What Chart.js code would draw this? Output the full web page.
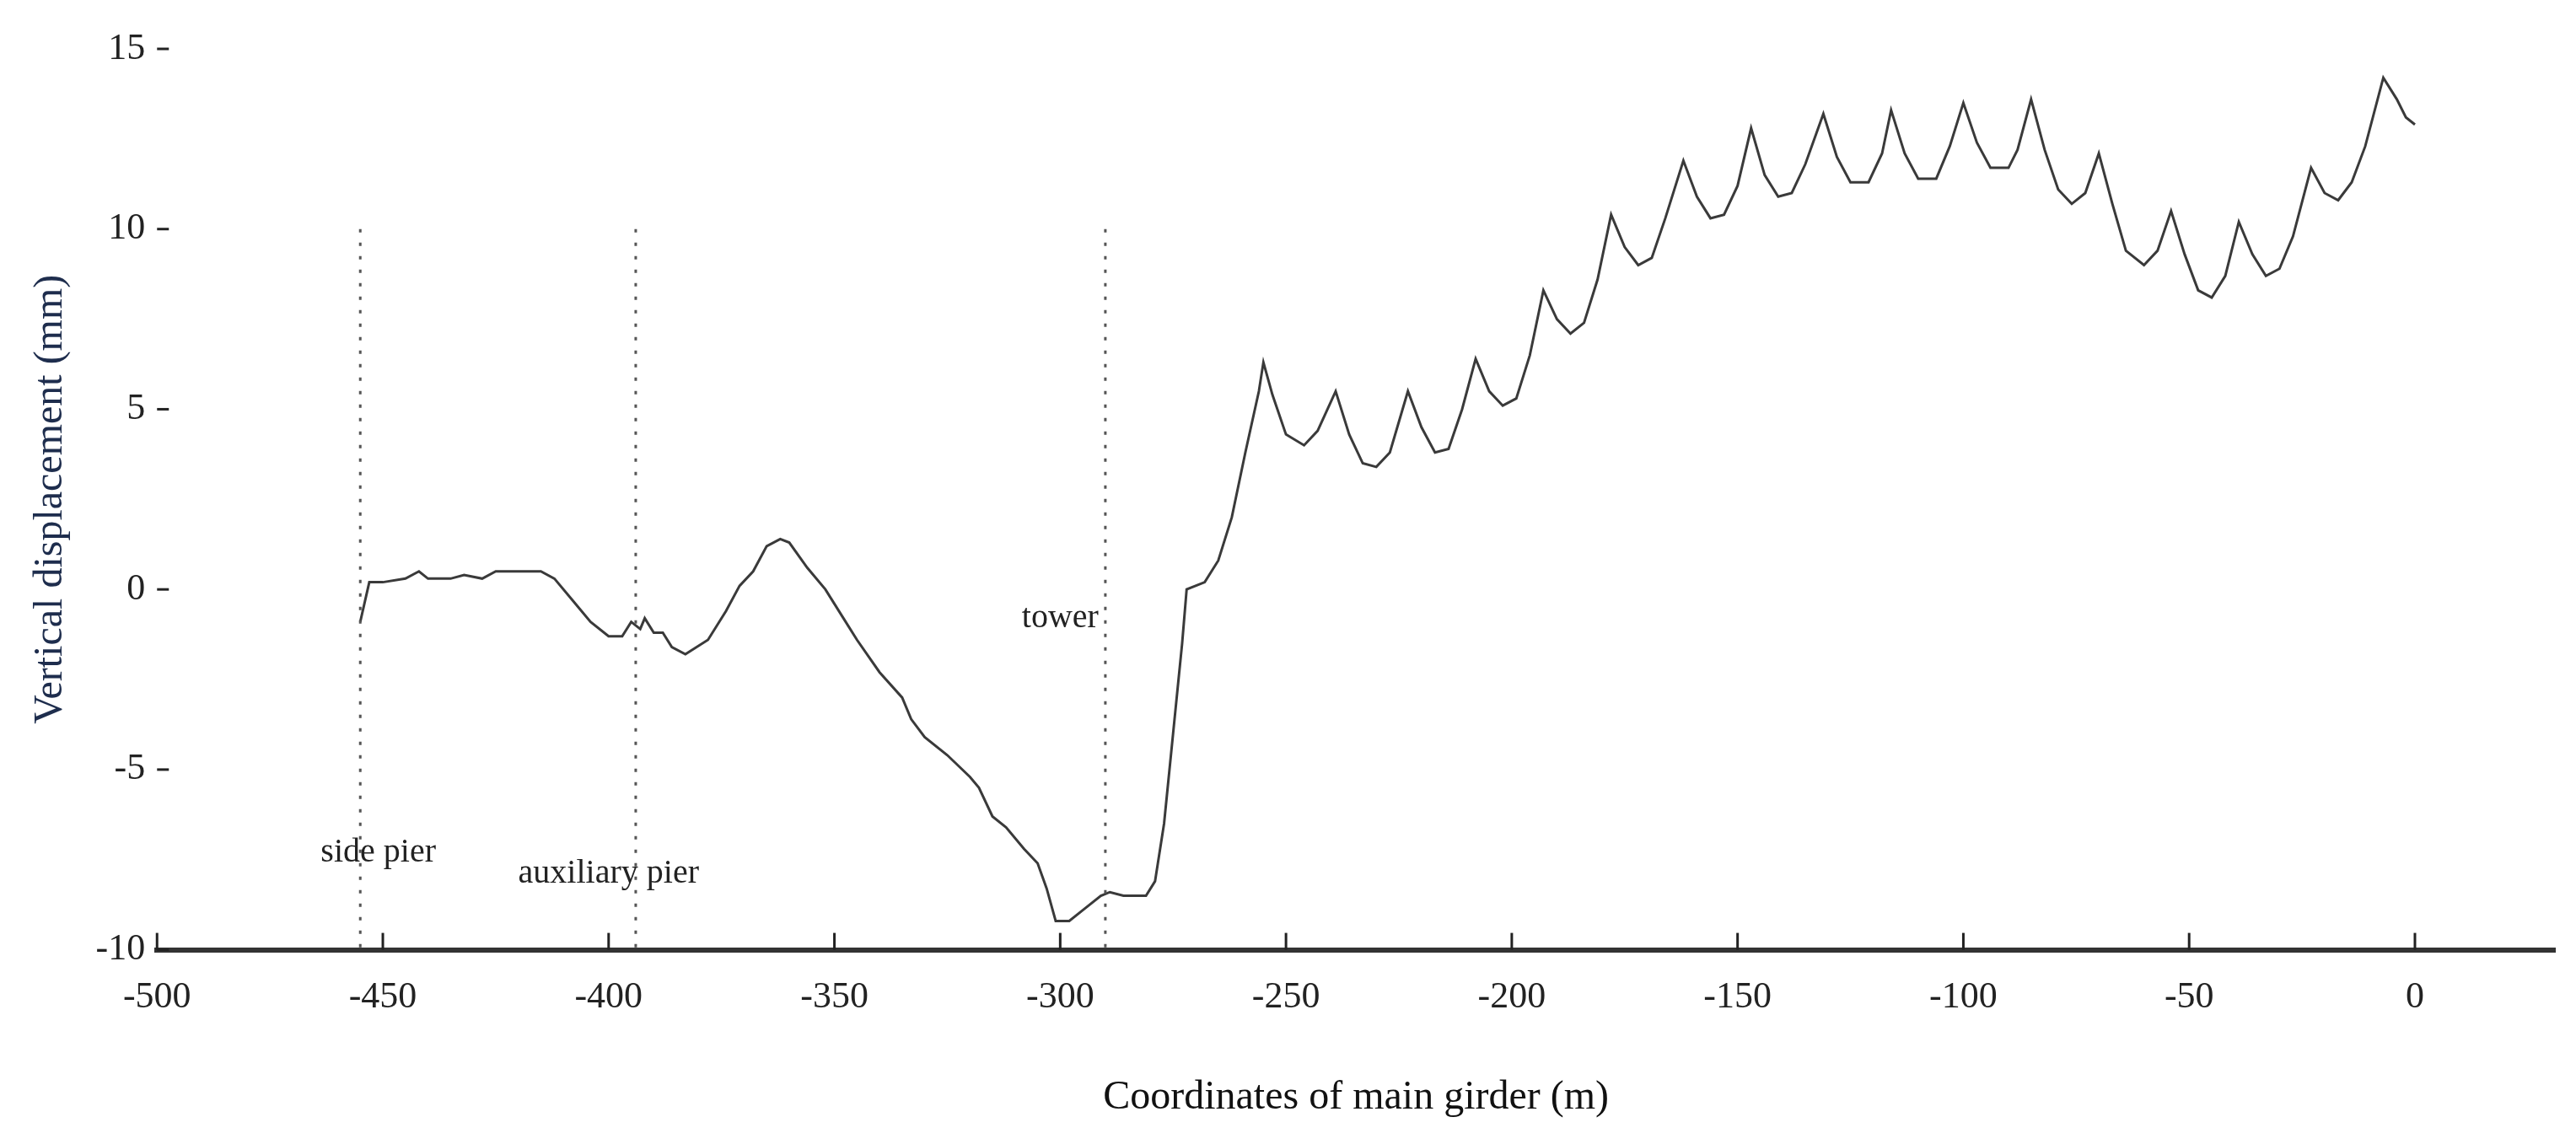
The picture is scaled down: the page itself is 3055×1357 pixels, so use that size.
<!DOCTYPE html>
<html>
<head>
<meta charset="utf-8">
<script src="https://cdn.jsdelivr.net/npm/chart.js@4/dist/chart.umd.min.js"></script>
<style>
	html, body { margin: 0; padding: 0; background: #fff; }
	#wrap { width: 3055px; height: 1357px; }
</style>
</head>
<body>
<div id="wrap"><canvas id="chart"></canvas></div>
<script>
// Coordinates along the girder (m)
const xCoords = [
	-455, -453, -450, -445, -442, -440, -435, -432, -428, -425, -420, -415, -412, -408, -404,
	-400, -397, -395, -393, -392, -390, -388, -386, -383, -378, -374, -371, -368, -365, -362,
	-360, -356, -352, -348, -345, -340, -335, -333, -330, -325, -320, -318, -315, -312, -308,
	-305, -303, -301, -298, -295, -291, -289, -286, -283, -281, -279, -277, -275, -273, -272,
	-268, -265, -262, -259, -256, -255, -253, -250, -246, -243, -239, -236, -233, -230, -227,
	-223, -220, -217, -214, -211, -208, -205, -202, -199, -196, -193, -190, -187, -184, -181,
	-178, -175, -172, -169, -166, -162, -159, -156, -153, -150, -147, -144, -141, -138, -135,
	-131, -128, -125, -121, -118, -116, -113, -110, -106, -103, -100, -97, -94, -90, -88,
	-85, -82, -79, -76, -73, -70, -67, -64, -60, -57, -54, -51, -48, -45, -42,
	-39, -36, -33, -30, -27, -23, -20, -17, -14, -11, -7, -4, -2, 0
];
// Vertical displacement (mm)
const displacement = [
	-0.9, 0.2, 0.2, 0.3, 0.5, 0.3, 0.3, 0.4, 0.3, 0.5, 0.5, 0.5, 0.3, -0.3, -0.9,
	-1.3, -1.3, -0.9, -1.1, -0.8, -1.2, -1.2, -1.6, -1.8, -1.4, -0.6, 0.1, 0.5, 1.2, 1.4,
	1.3, 0.6, 0.0, -0.8, -1.4, -2.3, -3.0, -3.6, -4.1, -4.6, -5.2, -5.5, -6.3, -6.6, -7.2,
	-7.6, -8.3, -9.2, -9.2, -8.9, -8.5, -8.4, -8.5, -8.5, -8.5, -8.1, -6.5, -4.0, -1.5, 0.0,
	0.2, 0.8, 2.0, 3.8, 5.5, 6.3, 5.4, 4.3, 4.0, 4.4, 5.5, 4.3, 3.5, 3.4, 3.8,
	5.5, 4.5, 3.8, 3.9, 5.0, 6.4, 5.5, 5.1, 5.3, 6.5, 8.3, 7.5, 7.1, 7.4, 8.6,
	10.4, 9.5, 9.0, 9.2, 10.3, 11.9, 10.9, 10.3, 10.4, 11.2, 12.8, 11.5, 10.9, 11.0, 11.8,
	13.2, 12.0, 11.3, 11.3, 12.1, 13.3, 12.1, 11.4, 11.4, 12.3, 13.5, 12.4, 11.7, 11.7, 12.2,
	13.6, 12.2, 11.1, 10.7, 11.0, 12.1, 10.7, 9.4, 9.0, 9.4, 10.5, 9.3, 8.3, 8.1, 8.7,
	10.2, 9.3, 8.7, 8.9, 9.8, 11.7, 11.0, 10.8, 11.3, 12.3, 14.2, 13.6, 13.1, 12.9
];
const xTicks = [-500, -450, -400, -350, -300, -250, -200, -150, -100, -50, 0];
const yTicks = [-10, -5, 0, 5, 10, 15];

// Reference lines and their labels
const markerX = [-455, -394, -290];
const markerTop = 10;
const labelNames = ['side pier', 'auxiliary pier', 'tower'];
const labelX = [-451, -400, -300];
const labelY = [-7.3, -7.9, -0.8];

const points = xCoords.map( function( x, i ) {
	return { x: x, y: displacement[i] };
} );

const serif = '"Liberation Serif", "DejaVu Serif", serif';

// Dotted lines, labels and inward tick marks
const annotate = {
	id: 'annotate',
	afterDraw: function( chart ) {
		const ctx = chart.ctx,
			xs = chart.scales.x,
			ys = chart.scales.y;
		ctx.save();
		ctx.strokeStyle = '#555';
		ctx.lineWidth = 3;
		ctx.setLineDash( [ 4, 12 ] );
		markerX.forEach( function( v ) {
			const px = xs.getPixelForValue( v );
			ctx.beginPath();
			ctx.moveTo( px, ys.getPixelForValue( markerTop ) );
			ctx.lineTo( px, ys.getPixelForValue( -10 ) );
			ctx.stroke();
		} );
		ctx.setLineDash( [] );
		ctx.fillStyle = '#222';
		ctx.font = '40px ' + serif;
		ctx.textAlign = 'center';
		ctx.textBaseline = 'middle';
		labelNames.forEach( function( name, i ) {
			ctx.fillText( name, xs.getPixelForValue( labelX[i] ), ys.getPixelForValue( labelY[i] ) );
		} );
		// tick marks
		ctx.strokeStyle = '#222';
		ctx.lineWidth = 3;
		const yBase = ys.getPixelForValue( -10 );
		xTicks.forEach( function( v ) {
			const px = xs.getPixelForValue( v );
			ctx.beginPath();
			ctx.moveTo( px, yBase );
			ctx.lineTo( px, yBase - 20 );
			ctx.stroke();
		} );
		const xBase = xs.getPixelForValue( -500 );
		yTicks.forEach( function( v ) {
			const py = ys.getPixelForValue( v );
			ctx.beginPath();
			ctx.moveTo( xBase, py );
			ctx.lineTo( xBase + 14, py );
			ctx.stroke();
		} );
		ctx.restore();
	}
};

new Chart( document.getElementById( 'chart' ), {
	type: 'line',
	data: {
		datasets: [ {
			data: points,
			borderColor: '#3a3a3a',
			borderWidth: 3,
			pointRadius: 0,
			tension: 0
		} ]
	},
	options: {
		responsive: true,
		maintainAspectRatio: false,
		devicePixelRatio: 1,
		animation: false,
		layout: { padding: { left: 28, right: 25, top: 58, bottom: 22 } },
		plugins: { legend: { display: false }, tooltip: { enabled: false } },
		scales: {
			x: {
				type: 'linear',
				min: -500,
				max: 31,
				afterBuildTicks: function( axis ) {
					axis.ticks = xTicks.map( function( v ) { return { value: v }; } );
				},
				grid: { display: false, drawTicks: false },
				border: { display: true, color: '#333', width: 6 },
				ticks: { color: '#222', padding: 30, maxRotation: 0, font: { family: serif, size: 44 } },
				title: { display: true, text: 'Coordinates of main girder (m)', color: '#111', padding: { top: 34 }, font: { family: serif, size: 48 } }
			},
			y: {
				min: -10,
				max: 15,
				afterBuildTicks: function( axis ) {
					axis.ticks = yTicks.map( function( v ) { return { value: v }; } );
				},
				grid: { display: false, drawTicks: false },
				border: { display: false },
				ticks: { color: '#222', padding: 14, font: { family: serif, size: 44 } },
				title: { display: true, text: 'Vertical displacement (mm)', color: '#1e2d4d', padding: { bottom: 10 }, font: { family: serif, size: 48 } }
			}
		}
	},
	plugins: [ annotate ]
} );
</script>
</body>
</html>
